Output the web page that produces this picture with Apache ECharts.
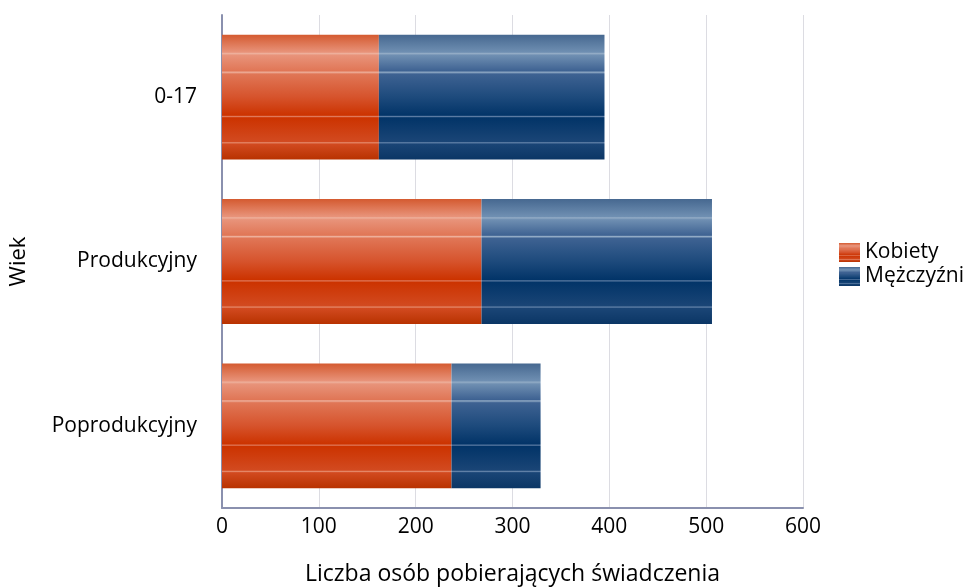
<!DOCTYPE html>
<html>
<head>
<meta charset="utf-8">
<script src="https://cdn.jsdelivr.net/npm/echarts@6/dist/echarts.min.js"></script>
<style>html,body{margin:0;padding:0;background:#fff}#c{width:975px;height:588px}</style>
</head>
<body>
<div id="c"></div>
<script>
var categories = ['0-17', 'Produkcyjny', 'Poprodukcyjny'];
var kobiety = [162, 268, 237];
var mezczyzni = [233, 238, 92];
var xTicks = [0, 100, 200, 300, 400, 500, 600];

function gloss(c) {
  return new echarts.graphic.LinearGradient(0, 0, 0, 1, [
    {offset: 0, color: c[0]},
    {offset: 0.14, color: c[1]},
    {offset: 0.15, color: c[2]},
    {offset: 0.165, color: c[1]},
    {offset: 0.29, color: c[3]},
    {offset: 0.30, color: c[2]},
    {offset: 0.315, color: c[3]},
    {offset: 0.5, color: c[4]},
    {offset: 0.645, color: c[5]},
    {offset: 0.655, color: c[6]},
    {offset: 0.665, color: c[5]},
    {offset: 0.855, color: c[7]},
    {offset: 0.865, color: c[8]},
    {offset: 0.875, color: c[7]},
    {offset: 1, color: c[9]}
  ]);
}
var red = ['#d45a30', '#e8937a', '#eeb09c', '#e07656', '#d6532c', '#cc3300', '#e07a5c', '#d24a20', '#e58a6c', '#b83200'];
var blue = ['#466890', '#6f8fb2', '#93acc6', '#3e6292', '#1d4a7c', '#023468', '#5c7ca4', '#1a4576', '#6584aa', '#0b3665'];

var font = 'Open Sans';
var chart = echarts.init(document.getElementById('c'));
chart.setOption({
  animation: false,
  textStyle: {fontFamily: font, color: '#000'},
  grid: {left: 222, right: 172, top: 15, bottom: 80, containLabel: false, outerBoundsMode: 'none'},
  legend: {
    orient: 'vertical', left: 834, top: 237,
    itemWidth: 21, itemHeight: 19, itemGap: 3, icon: 'rect',
    textStyle: {fontSize: 21, color: '#000', fontFamily: font},
    data: ['Kobiety', 'Mężczyźni']
  },
  xAxis: {
    type: 'value', min: xTicks[0], max: xTicks[xTicks.length - 1], interval: 100,
    name: 'Liczba osób pobierających świadczenia', nameLocation: 'middle', nameGap: 55,
    nameTextStyle: {fontSize: 23, color: '#000', fontFamily: font},
    axisLine: {show: true, lineStyle: {color: '#8a90ae', width: 2}},
    axisTick: {show: false},
    axisLabel: {fontSize: 21, color: '#000', margin: 9, fontFamily: font},
    splitLine: {show: true, lineStyle: {color: '#dcdce2', width: 1}}
  },
  yAxis: {
    type: 'category', data: categories, inverse: true,
    name: 'Wiek', nameLocation: 'middle', nameGap: 192, nameRotate: 90,
    nameTextStyle: {fontSize: 22, color: '#000', fontFamily: font},
    axisLine: {show: true, lineStyle: {color: '#8a90ae', width: 2}},
    axisTick: {show: false},
    axisLabel: {fontSize: 21, color: '#000', margin: 25, fontFamily: font}
  },
  series: [
    {name: 'Kobiety', type: 'bar', stack: 's', data: kobiety, barCategoryGap: '24%',
     itemStyle: {color: gloss(red)}},
    {name: 'Mężczyźni', type: 'bar', stack: 's', data: mezczyzni, barCategoryGap: '24%',
     itemStyle: {color: gloss(blue)}}
  ]
});
</script>
</body>
</html>
